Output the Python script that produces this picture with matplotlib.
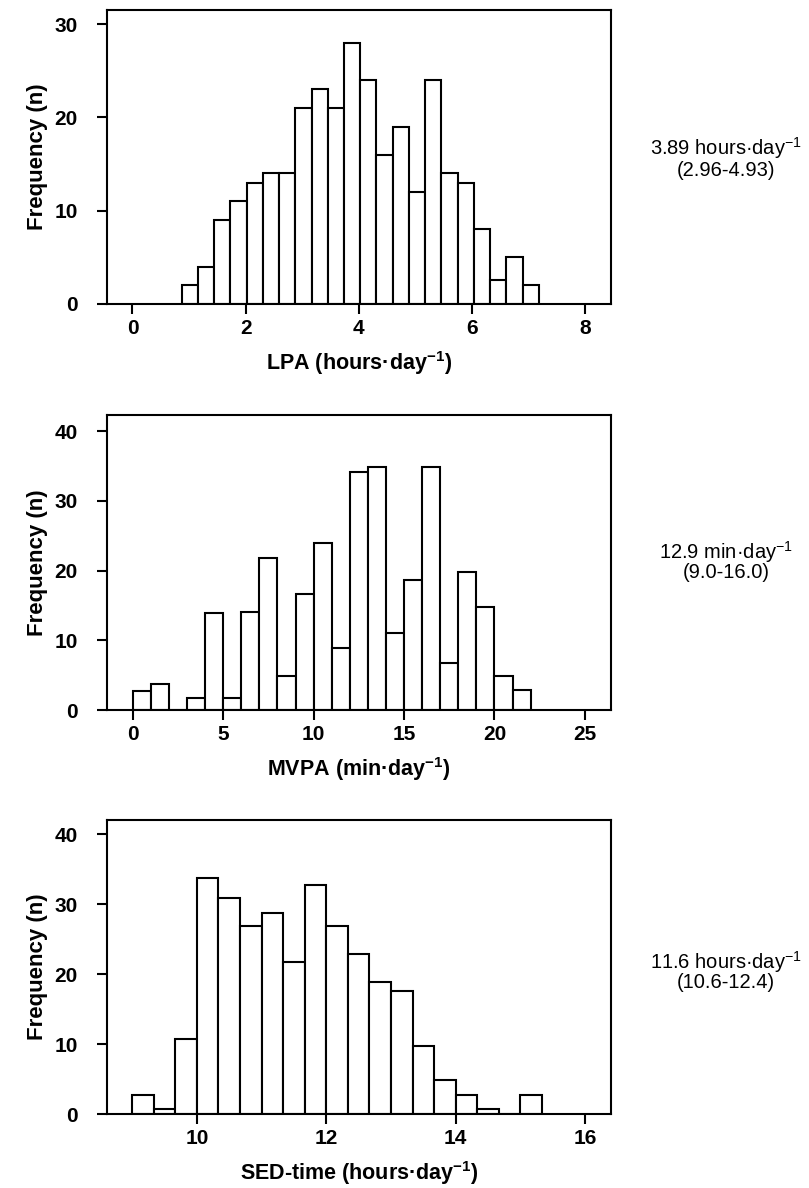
import numpy as np
import matplotlib
matplotlib.use("Agg")
import matplotlib.pyplot as plt

plt.rcParams["font.family"] = ["Liberation Sans", "DejaVu Sans"]
plt.rcParams["mathtext.fontset"] = "custom"
plt.rcParams["mathtext.rm"] = "Liberation Sans"
plt.rcParams["mathtext.bf"] = "Liberation Sans:bold"

# ---------------------------------------------------------------------------
# data
# ---------------------------------------------------------------------------
lpa_start = 0.87
lpa_width = 0.287
lpa_counts = [2, 4, 9, 11, 13, 14, 14, 21, 23, 21, 28, 24, 16, 19, 12, 24,
              14, 13, 8, 2.6, 5, 2]

mvpa_start = 0.0
mvpa_width = 1.0
mvpa_counts = [2.7, 3.7, 0, 1.7, 13.9, 1.7, 14, 21.8, 4.9, 16.7, 23.9, 8.9,
               34.1, 34.8, 11.1, 18.7, 34.8, 6.8, 19.8, 14.8, 4.9, 2.8]

sed_start = 9.0
sed_width = 1 / 3
sed_counts = [2.7, 0.7, 10.7, 33.7, 30.8, 26.8, 28.7, 21.7, 32.7, 26.8, 22.8,
              18.8, 17.6, 9.7, 4.9, 2.7, 0.7, 0, 2.7]

lpa_xticks = [0, 2, 4, 6, 8]
mvpa_xticks = [0, 5, 10, 15, 20, 25]
sed_xticks = [10, 12, 14, 16]

xlabels = ["LPA (hours·day$^{\\mathregular{-1}}$)",
           "MVPA (min·day$^{\\mathregular{-1}}$)",
           "SED-time (hours·day$^{\\mathregular{-1}}$)"]
medians = ["3.89 hours·day$^{\\mathregular{-1}}$",
           "12.9 min·day$^{\\mathregular{-1}}$",
           "11.6 hours·day$^{\\mathregular{-1}}$"]
iqrs = ["(2.96-4.93)", "(9.0-16.0)", "(10.6-12.4)"]

panels = [
    (lpa_start, lpa_width, lpa_counts, lpa_xticks, (-0.45, 8.46), [0, 10, 20, 30], 31.5),
    (mvpa_start, mvpa_width, mvpa_counts, mvpa_xticks, (-1.42, 26.44), [0, 10, 20, 30, 40], 42.3),
    (sed_start, sed_width, sed_counts, sed_xticks, (8.61, 16.40), [0, 10, 20, 30, 40], 42.0),
]

W, H = 809, 1188
fig = plt.figure(figsize=(W / 100, H / 100), dpi=100)

# axes boxes in pixels: (left, top, right, bottom)
boxes = [(107, 10, 611, 304), (107, 415, 611, 710), (107, 820, 611, 1114)]
text_y = [(148, 171), (552, 573), (962, 983)]

for i, (start, width, counts, xticks, xlim, yticks, ytop) in enumerate(panels):
    l, t, r, b = boxes[i]
    ax = fig.add_axes([l / W, 1 - b / H, (r - l) / W, (b - t) / H])
    counts = np.asarray(counts, dtype=float)
    lefts = start + width * np.arange(len(counts))
    ax.bar(lefts, counts, width=width, align="edge", color="white",
           edgecolor="black", linewidth=1.5)
    ax.set_xlim(*xlim)
    ax.set_ylim(0, ytop)
    ax.set_xticks(xticks)
    ax.set_yticks(yticks)
    for s in ax.spines.values():
        s.set_linewidth(1.5)
    ax.tick_params(direction="out", length=7, width=1.5, labelsize=15)
    ax.tick_params(axis="x", pad=4)
    ax.tick_params(axis="y", pad=14)
    for lab in ax.get_xticklabels() + ax.get_yticklabels():
        lab.set_fontweight("bold")
    ax.set_xlabel(xlabels[i], fontsize=15.5, fontweight="bold", labelpad=8)
    ax.set_ylabel("Frequency (n)", fontsize=16, fontweight="bold", labelpad=5)

    y1, y2 = text_y[i]
    fig.text(726 / W, 1 - y1 / H, medians[i], ha="center", va="center", fontsize=14.5)
    fig.text(726 / W, 1 - y2 / H, iqrs[i], ha="center", va="center", fontsize=14.5)

fig.savefig("out.png", dpi=100)
